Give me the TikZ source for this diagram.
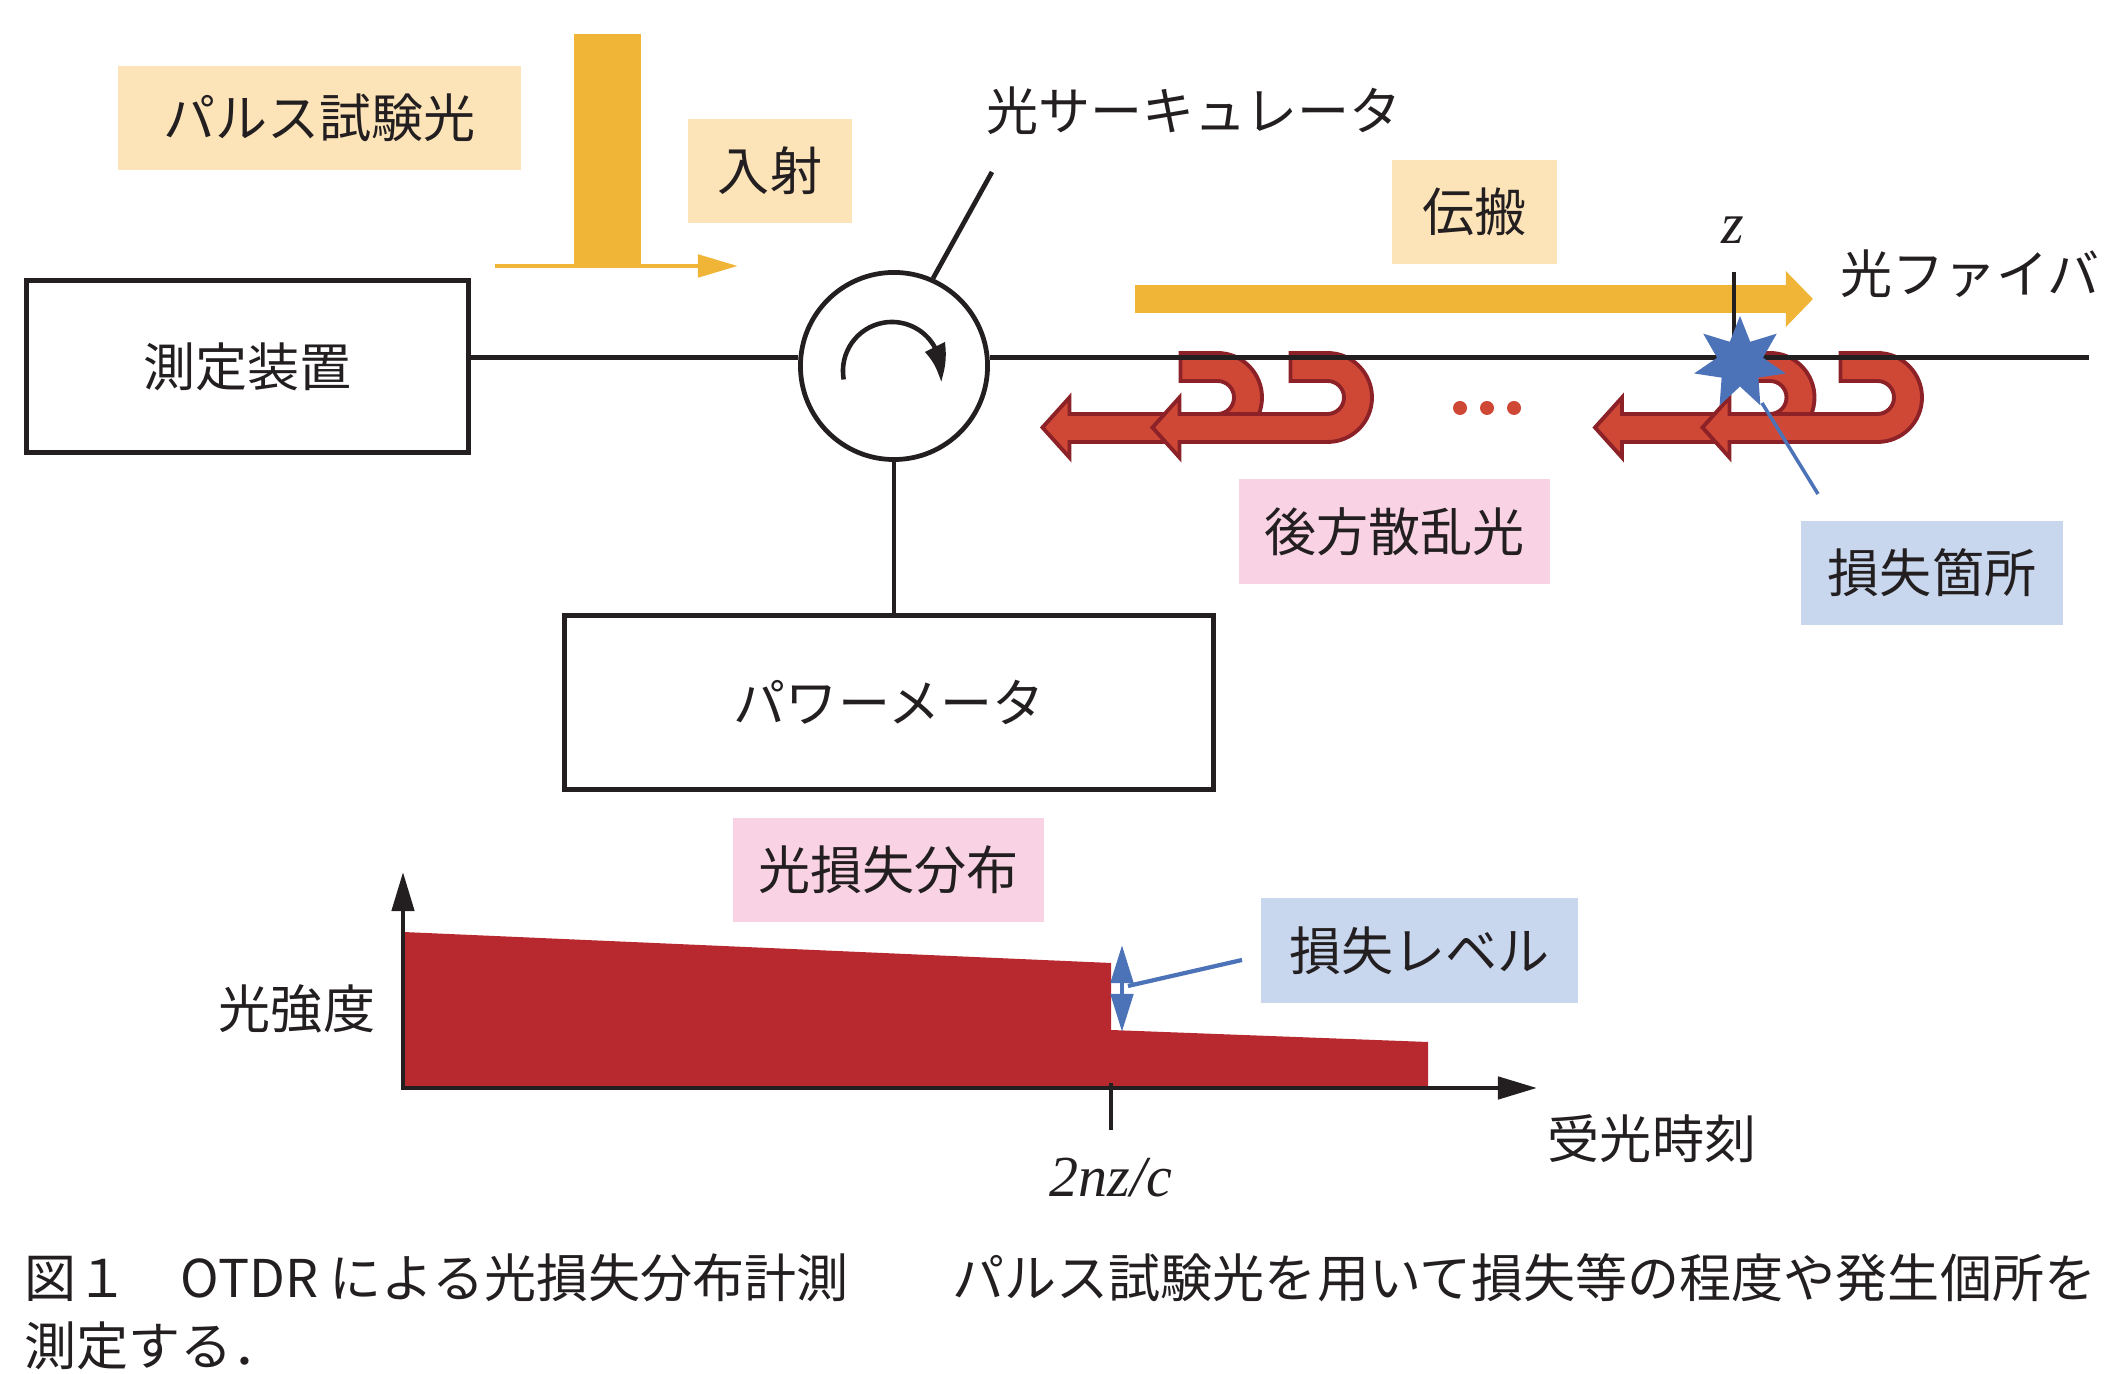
\documentclass[tikz,border=0pt]{standalone}
\usepackage{fontspec}
\setmainfont{Liberation Serif}
\newfontfamily\jp{Noto Sans CJK JP}
\usepackage{tikz}
\usetikzlibrary{shapes.geometric,arrows.meta,bending,positioning,calc}

\definecolor{ink}{HTML}{231F20}
\definecolor{pulseyellow}{HTML}{F0B436}
\definecolor{tagorange}{HTML}{FDE4B8}
\definecolor{tagpink}{HTML}{F9D3E3}
\definecolor{tagblue}{HTML}{C8D6EE}
\definecolor{scatterred}{HTML}{CF4835}
\definecolor{scatteredge}{HTML}{8C2227}
\definecolor{lossblue}{HTML}{4C72B8}
\definecolor{graphred}{HTML}{B7282F}

% one U-turn back-scatter arrow, (#1,#2) = centre of the bend
\newcommand{\backscatter}[2]{%
  \path[scatterarrow, shift={(#1,#2)}]
    (-37,-44.5) -- (0,-44.5) arc[start angle=270, end angle=450, radius=44.5]
    -- (-148,44.5) -- (-148,60) -- (-175,30) -- (-148,0) -- (-148,16.5)
    -- (0,16.5) arc[start angle=90, end angle=-90, radius=16.5]
    -- (-37,-16.5) -- cycle;}

\begin{document}
\begin{tikzpicture}[
    x=0.01cm, y=-0.01cm,
    font=\jp\fontsize{14.8pt}{17pt}\selectfont,
    text=ink,
    box/.style={rectangle, draw=ink, line width=1.35pt, inner sep=0pt},
    labeltag/.style={rectangle, inner sep=0pt, minimum height=1.04cm},
    orangetag/.style={labeltag, fill=tagorange},
    pinktag/.style={labeltag, fill=tagpink},
    bluetag/.style={labeltag, fill=tagblue},
    txt/.style={inner sep=0pt},
    mathtxt/.style={inner sep=0pt, font=\rmfamily\itshape\fontsize{16.5pt}{18pt}\selectfont},
    wire/.style={draw=ink, line width=1.35pt},
    scatterarrow/.style={fill=scatterred, draw=scatteredge, line width=1.1pt},
    axisline/.style={draw=ink, line width=1.3pt,
        {Triangle[length=0.39cm, width=0.22cm]}-{Triangle[length=0.39cm, width=0.22cm]}},
]
    \useasboundingbox (0,0) rectangle (2123,1374);

    % Labels
    \node[orangetag, minimum width=4.03cm] (pulselabel) at (319.5,118) {パルス試験光};
    \node[orangetag, minimum width=1.64cm] (inlabel) at (770,171) {入射};
    \node[orangetag, minimum width=1.65cm] (proplabel) at (1474.5,212) {伝搬};
    \node[pinktag, minimum width=3.11cm] (scatterlabel) at (1394.5,531.5) {後方散乱光};
    \node[bluetag, minimum width=2.62cm] (faultlabel) at (1932,573) {損失箇所};
    \node[pinktag, minimum width=3.11cm] (distlabel) at (888.5,870) {光損失分布};
    \node[bluetag, minimum width=3.17cm] (levellabel) at (1419.5,950.5) {損失レベル};
    \node[txt, anchor=west] (circlabel) at (986,111) {光サーキュレータ};
    \node[txt, anchor=west] (fiberlabel) at (1840,274) {光ファイバ};
    \node[mathtxt] (zlabel) at (1733,230) {z};

    % Test pulse
    \coordinate (pulsestart) at (495,266);
    \coordinate (pulseend) at (738,266);
    \fill[pulseyellow] (574,34) rectangle (641,264);
    \draw[pulseyellow, line width=1.4pt, -{Triangle[length=0.4cm, width=0.22cm]}] (pulsestart) -- (pulseend);

    % Propagation
    \coordinate (propstart) at (1135,299);
    \coordinate (proptip) at (1813,299);
    \draw[pulseyellow, line width=0.28cm, -{Triangle[length=0.27cm, width=0.54cm]}] (propstart) -- (proptip);

    % Back scattering
    \foreach \cx in {1217.5,1327.5,1770,1877.5}
        \backscatter{\cx}{397.5};
    \foreach \dx in {1460,1487,1514}
        \fill[scatterred] (\dx,408) circle[radius=7];

    % Devices
    \node[box, minimum width=4.42cm, minimum height=1.72cm] (device) at (247.5,366.5) {測定装置};
    \node[circle, draw=ink, line width=1.35pt, minimum size=1.87cm, inner sep=0pt] (circ) at (894,366) {};
    \node[box, minimum width=6.49cm, minimum height=1.74cm] (meter) at (889,702.5) {パワーメータ};
    \coordinate (circtip) at (992,172);
    \coordinate (fiberend) at (2089,358);
    \coordinate (turnstart) at (843.7,379.5);

    % Fibres
    \draw[wire] (device.east |- circ.175) -- (circ.175);
    \draw[wire] (circ.5) -- (circ.5 -| fiberend);
    \draw[wire] (circ.south) -- (circ.south |- meter.north);
    \draw[wire] (circ.66) -- (circtip);
    \draw[draw=ink, line width=1.3pt, -{Triangle[length=0.36cm, width=0.21cm, bend]}]
        (turnstart) arc[start angle=170, end angle=373, radius=49];

    % Fault point
    \coordinate (zfoot) at (1734,358);
    \coordinate (ztop) at (1734,272);
    \draw[wire] (zfoot) -- (ztop);
    \node[star, star points=7, star point ratio=2, fill=lossblue, minimum size=0.94cm, inner sep=0pt] (fault) at (1740,363) {};
    \coordinate (faultfoot) at (1762,403);
    \coordinate (faultend) at (1818,494);
    \draw[lossblue, line width=1pt] (faultfoot) -- (faultend);

    % Loss distribution
    \coordinate (origin) at (403,1088);
    \coordinate (ytip) at (403,872);
    \coordinate (xtip) at (1537,1088);
    \fill[graphred] (403,932) -- (1111,963) -- (1111,1030) -- (1428,1042) -- (1428,1088) -- (403,1088) -- cycle;
    \draw[axisline] (ytip) -- (origin) -- (xtip);
    \coordinate (tickup) at (1111,1083);
    \coordinate (tickdown) at (1111,1130);
    \draw[wire] (tickup) -- (tickdown);
    \node[mathtxt] (timelabel) at (1111,1178) {2nz/c};
    \node[txt] (ylabel) at (297,1009) {光強度};
    \node[txt] (xlabel) at (1652,1139) {受光時刻};
    \coordinate (stepup) at (1122,945);
    \coordinate (stepdown) at (1122,1032);
    \draw[lossblue, line width=1.4pt, {Triangle[length=0.38cm, width=0.22cm]}-{Triangle[length=0.38cm, width=0.22cm]}] (stepup) -- (stepdown);
    \coordinate (levelfoot) at (1128,986);
    \coordinate (levelend) at (1242,960);
    \draw[lossblue, line width=1.2pt] (levelfoot) -- (levelend);

    % Caption
    \node[txt, anchor=west] (figtitle) at (24,1278) {図１　OTDR による光損失分布計測};
    \node[txt, anchor=west] (figtext) at (952,1278) {パルス試験光を用いて損失等の程度や発生個所を};
    \node[txt, anchor=west] (figtext2) at (24,1346) {測定する．};
\end{tikzpicture}
\end{document}
